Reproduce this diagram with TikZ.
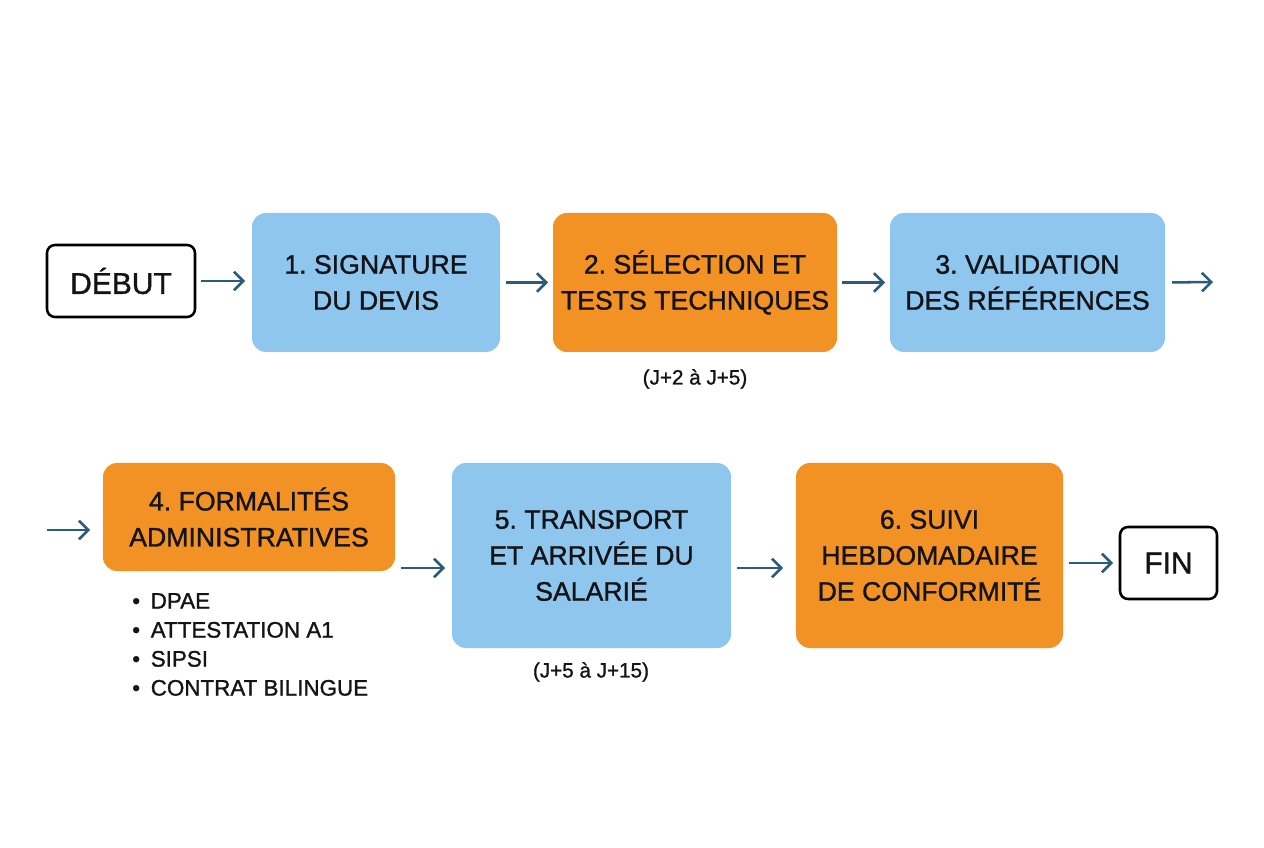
\documentclass[tikz,border=0pt]{standalone}
\usepackage{fontspec}
\setmainfont{Liberation Sans}[FakeBold=1.2]
\frenchspacing
\usetikzlibrary{arrows.meta}
\definecolor{boxblue}{RGB}{142,198,238}
\definecolor{boxorange}{RGB}{243,146,36}
\definecolor{arrowc}{RGB}{44,92,122}
\definecolor{txt}{RGB}{20,20,24}
\tikzset{
  stepbox/.style={rounded corners=10.5pt, inner sep=0pt, outer sep=0pt, align=center, text=txt,
    font=\fontsize{20}{27}\selectfont},
  bluebox/.style={stepbox, fill=boxblue},
  orangebox/.style={stepbox, fill=boxorange},
  endbox/.style={rounded corners=6pt, draw=black, line width=1.9pt, fill=white, inner sep=0pt,
    outer sep=0pt, text=txt, font=\fontsize{22.5}{27}\selectfont},
  arr/.style={draw=arrowc, line width=1.9pt, -{Straight Barb[length=7pt,width=14pt,line width=1.9pt]}},
  note/.style={text=txt, font=\fontsize{15.5}{20}\selectfont, inner sep=0pt},
}
\begin{document}
\begin{tikzpicture}[x=0.75pt,y=-0.75pt]
\useasboundingbox[fill=white] (0,0) rectangle (1264,848);
% row 1
\node[endbox, minimum width=111pt, minimum height=54pt] (debut) at (121,281) {DÉBUT};
\node[bluebox, minimum width=186pt, minimum height=104.25pt] (s1) at (376,282.5) {1. SIGNATURE\\DU DEVIS};
\node[orangebox, minimum width=213pt, minimum height=104.25pt] (s2) at (695,282.5) {2. SÉLECTION ET\\TESTS TECHNIQUES};
\node[bluebox, minimum width=206.25pt, minimum height=104.25pt] (s3) at (1027.5,282.5) {3. VALIDATION\\DES RÉFÉRENCES};
\node[note] (n2) at (695,379) {(J+2 à J+5)};
\coordinate (e3) at (1213,282);
% row 2
\coordinate (b4) at (47,530);
\node[orangebox, minimum width=219pt, minimum height=81pt] (s4) at (249,517) {4. FORMALITÉS\\ADMINISTRATIVES};
\node[bluebox, minimum width=209.25pt, minimum height=138.75pt] (s5) at (591.5,555.5) {5. TRANSPORT\\ET ARRIVÉE DU\\SALARIÉ};
\node[orangebox, minimum width=200.25pt, minimum height=138.75pt] (s6) at (929.5,555.5) {6. SUIVI\\HEBDOMADAIRE\\DE CONFORMITÉ};
\node[endbox, minimum width=72.75pt, minimum height=54pt] (fin) at (1168.5,563) {FIN};
\node[note] (n5) at (591,672) {(J+5 à J+15)};
\node[text=txt, font=\fontsize{16.8}{21.75}\selectfont, inner sep=0pt, anchor=west, align=left] (list) at (132,644.5)
  {\textbullet\hspace{8pt}DPAE\\ \textbullet\hspace{8pt}ATTESTATION A1\\ \textbullet\hspace{8pt}SIPSI\\ \textbullet\hspace{8pt}CONTRAT BILINGUE};
\coordinate (a6s) at (401,568);
\coordinate (a7s) at (737,568);
% arrows
\draw[arr, shorten <=4.5pt, shorten >=5.25pt] (debut.east) -- (s1.west |- debut.east);
\draw[arr, shorten <=4.5pt, shorten >=3.75pt] (s1.east) -- (s2.west);
\draw[arr, shorten <=3.75pt, shorten >=3.75pt] (s2.east) -- (s3.west);
\draw[arr, shorten <=5.25pt] (s3.east) -- (e3);
\draw[arr, shorten >=9.75pt] (b4) -- (s4.west |- b4);
\draw[arr, shorten >=5.25pt] (a6s) -- (s5.west |- a6s);
\draw[arr, shorten >=9.75pt] (a7s) -- (s6.west |- a7s);
\draw[arr, shorten <=4.5pt, shorten >=5.25pt] (s6.east |- fin.west) -- (fin.west);
\end{tikzpicture}
\end{document}
